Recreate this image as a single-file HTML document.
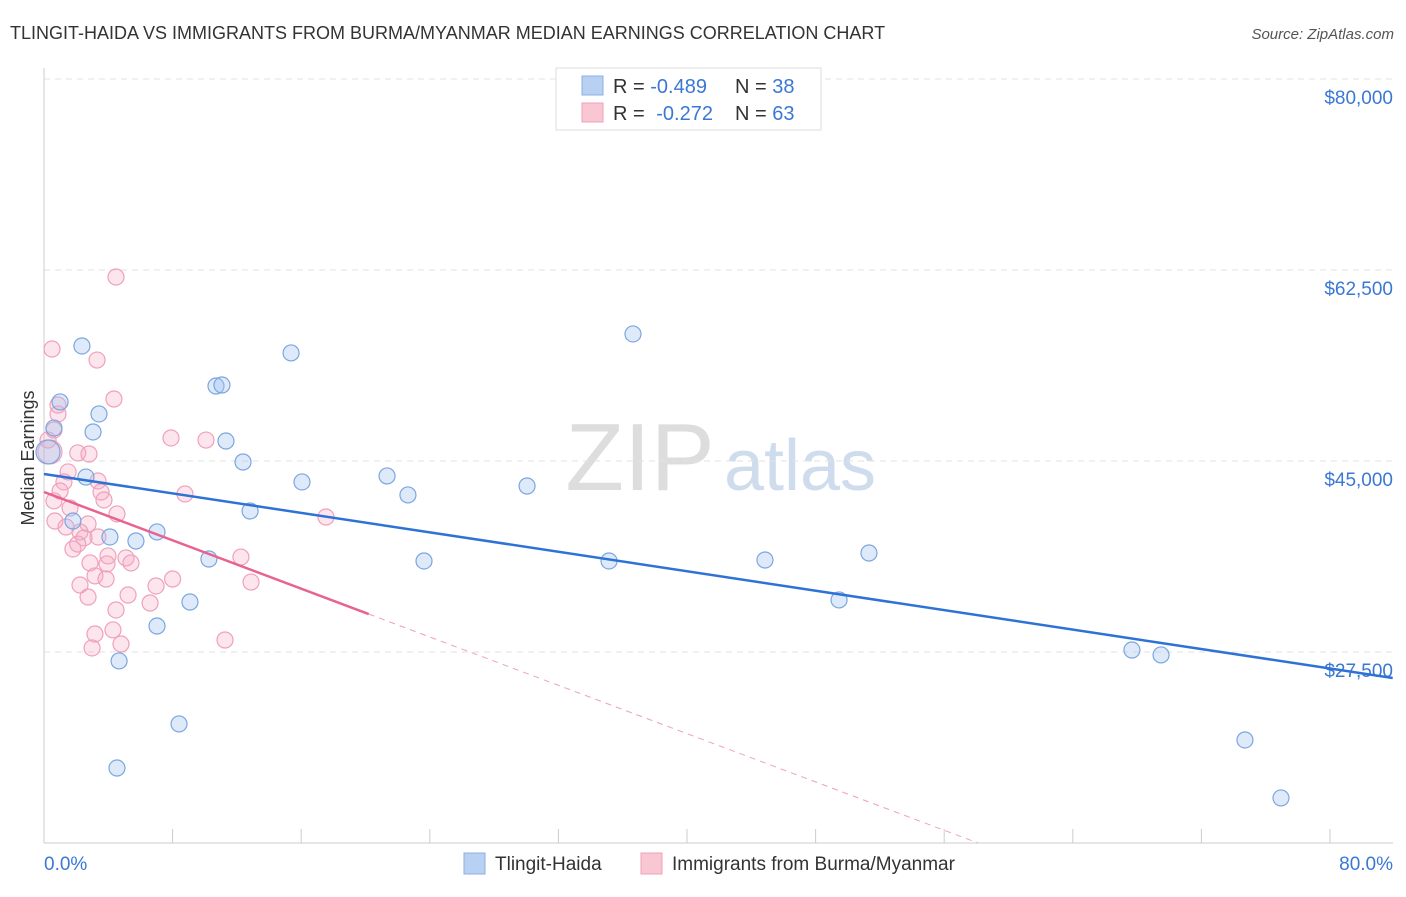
<!DOCTYPE html>
<html><head><meta charset="utf-8"><style>
body{margin:0;background:#fff;font-family:"Liberation Sans",sans-serif;}
svg text{font-family:"Liberation Sans",sans-serif;}
</style></head><body>
<svg id="chart" width="1406" height="892" xmlns="http://www.w3.org/2000/svg">
<text x="10" y="39" font-size="18" fill="#333">TLINGIT-HAIDA VS IMMIGRANTS FROM BURMA/MYANMAR MEDIAN EARNINGS CORRELATION CHART</text>
<text x="1394" y="39" font-size="15" fill="#555" text-anchor="end" font-style="italic">Source: ZipAtlas.com</text>
<text x="34" y="458" font-size="18" fill="#333" text-anchor="middle" transform="rotate(-90 34 458)">Median Earnings</text>
<text x="640" y="490" font-size="96" fill="#ddd" text-anchor="middle" font-family="Liberation Serif">ZIP</text>
<text x="800" y="490" font-size="72" fill="#cfdcee" text-anchor="middle">atlas</text>
<g id="grid"></g><g id="axes"></g><g id="marks"></g>
<g>
<rect x="556" y="68" width="265" height="62" fill="#fff" stroke="#ddd"/>
<rect x="582" y="76" width="21" height="19" fill="#b8d1f3" stroke="#8ab0e6"/>
<rect x="582" y="103" width="21" height="19" fill="#f9c6d4" stroke="#f0a0b8"/>
<text x="613" y="93" font-size="20" fill="#333">R = <tspan fill="#3a78d4">-0.489</tspan><tspan x="735">N = </tspan><tspan fill="#3a78d4">38</tspan></text>
<text x="613" y="120" font-size="20" fill="#333">R = <tspan fill="#3a78d4" dx="6">-0.272</tspan><tspan x="735">N = </tspan><tspan fill="#3a78d4">63</tspan></text>
</g>
<g>
<rect x="464" y="853" width="21" height="21" fill="#b8d1f3" stroke="#8ab0e6"/>
<text x="495" y="870" font-size="19" fill="#333">Tlingit-Haida</text>
<rect x="641" y="853" width="21" height="21" fill="#f9c6d4" stroke="#f0a0b8"/>
<text x="672" y="870" font-size="19" fill="#333">Immigrants from Burma/Myanmar</text>
</g>
<text x="44" y="870" font-size="19" fill="#3a78d4">0.0%</text>
<text x="1393" y="870" font-size="19" fill="#3a78d4" text-anchor="end">80.0%</text>
</svg>
<script>
const yTicks=[80000,62500,45000,27500];
const yTickLabels=["$80,000","$62,500","$45,000","$27,500"];
const blueX=[2.36,1.0,3.42,3.05,0.62,2.61,1.8,4.1,5.72,7.03,4.67,4.54,8.4,7.03,9.08,10.26,10.7,11.07,11.32,12.38,12.82,15.37,16.05,21.34,22.64,23.64,30.05,35.15,36.64,44.85,49.46,51.32,67.68,69.49,74.71,76.95,0.25];
const blueY=[55540,50410,49310,47660,48020,43530,39500,38040,37670,38500,26680,16870,20910,29880,32080,36020,51870,51960,46830,44910,40420,54900,43080,43630,41890,35840,42710,35840,56640,35930,32270,36570,27680,27230,19440,14130,45830];
const pinkX=[4.48,0.5,3.3,4.35,0.87,0.87,0.62,0.25,0.37,7.9,10.08,2.1,2.8,1.5,1.24,1.0,3.36,3.55,3.73,8.77,0.62,1.62,4.54,0.68,2.74,1.37,2.24,2.49,3.36,1.8,2.1,3.98,5.1,12.25,17.54,2.86,3.92,5.41,3.17,3.86,2.24,8.0,6.97,12.88,2.74,5.23,6.6,4.48,3.17,4.29,2.99,4.79,11.26];
const pinkY=[61860,55260,54250,50680,50130,49310,47840,46920,45830,47110,46920,45740,45640,44000,43080,42250,43170,42160,41430,41980,41340,40690,40150,39500,39230,38950,38500,37950,38040,36940,37390,36300,36120,36200,39870,35660,35570,35660,34470,34190,33640,34190,33550,33910,32540,32720,31990,31350,29150,29520,27870,28230,28600];
const blueFit=[43810,25120];
const blueFitX=[0,83.9];
const pinkFit=[42160,30980];
const pinkFitX=[0,20.2];
const xScale=v=>44+v*16.075;
const yScale=v=>79+(80000-v)*191/17500;
const NS="http://www.w3.org/2000/svg";
function mk(parent,tag,attrs){const e=document.createElementNS(NS,tag);for(const k in attrs)e.setAttribute(k,attrs[k]);document.getElementById(parent).appendChild(e);return e;}
yTicks.forEach((t,i)=>{
 const l=mk('grid','line',{x1:44,x2:1393,y1:yScale(t),y2:yScale(t),stroke:'#e2e2e2','stroke-dasharray':'6,5'});
 
 
 const tx=mk('axes','text',{x:1393,y:yScale(t)+25,'font-size':19,fill:'#3a78d4','text-anchor':'end'});
 tx.textContent=yTickLabels[i];
 
 
});
const ax=mk('axes','line',{x1:44,x2:1393,y1:843,y2:843,stroke:'#ccc'});


const ay=mk('axes','line',{x1:44,x2:44,y1:68,y2:843,stroke:'#ccc'});


for(let i=0;i<=10;i++){const t=mk('axes','line',{x1:xScale(i*8),x2:xScale(i*8),y1:829,y2:843,stroke:'#ccc'});
 
 }
pinkX.forEach((x,i)=>{const c=mk('marks','circle',{cx:xScale(x),cy:yScale(pinkY[i]),r:(i===8?12:8),fill:'rgba(246,170,195,0.3)',stroke:'#f0a0bb','stroke-width':1.2});
 
 });
blueX.forEach((x,i)=>{const c=mk('marks','circle',{cx:xScale(x),cy:yScale(blueY[i]),r:(i===36?12:8),fill:'rgba(160,195,240,0.35)',stroke:'#7aa6e0','stroke-width':1.2});
 
 });
const slope=(pinkFit[1]-pinkFit[0])/(pinkFitX[1]-pinkFitX[0]);
const xEnd=pinkFitX[0]+(10000-pinkFit[0])/slope;
const pd=mk('marks','line',{x1:xScale(pinkFitX[1]),y1:yScale(pinkFit[1]),x2:xScale(xEnd),y2:yScale(10000),stroke:'#f0a0bb','stroke-width':1,'stroke-dasharray':'6,5'});


const pl=mk('marks','line',{x1:xScale(pinkFitX[0]),y1:yScale(pinkFit[0]),x2:xScale(pinkFitX[1]),y2:yScale(pinkFit[1]),stroke:'#e8638d','stroke-width':2.5});


const bl=mk('marks','line',{x1:xScale(blueFitX[0]),y1:yScale(blueFit[0]),x2:xScale(blueFitX[1]),y2:yScale(blueFit[1]),stroke:'#2f72d6','stroke-width':2.5});


</script>
</body></html>
